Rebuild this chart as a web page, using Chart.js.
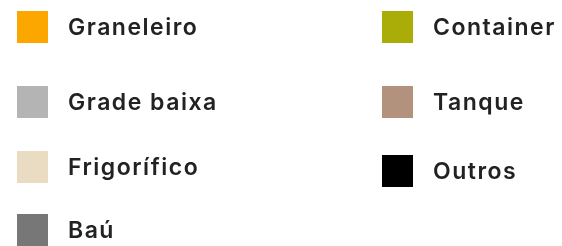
<!DOCTYPE html>
<html>
<head>
<meta charset="utf-8">
<script src="https://cdn.jsdelivr.net/npm/chart.js@4/dist/chart.umd.min.js"></script>
<style>
  html, body { margin: 0; padding: 0; background: #fff; }
  .wrap { width: 562px; height: 246px; }
</style>
</head>
<body>
<div class="wrap"><canvas id="legendChart"></canvas></div>
<script>
// tipos de carroceria
const tipos = ["Graneleiro", "Grade baixa", "Frigorífico", "Baú", "Container", "Tanque", "Outros"];
const cores = ["#fca600", "#b4b4b4", "#eadcc2", "#777777", "#aaad08", "#b3927d", "#000000"];
const valores = [[], [], [], [], [], [], []];

// legend grid: 4 items in first column, the rest in second
const colX = [17, 382];
const rowY = [[27, 102, 167, 230], [27, 102, 171]];
const box = { w: 31, h: 32 };

const gridLegend = {
  id: "gridLegend",
  afterDraw(chart) {
    const ctx = chart.ctx;
    ctx.save();
    ctx.font = "600 23px Inter, 'Open Sans', sans-serif";
    ctx.letterSpacing = "1.5px";
    ctx.textBaseline = "middle";
    chart.data.datasets.forEach((ds, i) => {
      const col = i < 4 ? 0 : 1;
      const row = i < 4 ? i : i - 4;
      const x = colX[col];
      const y = rowY[col][row];
      ctx.fillStyle = ds.backgroundColor;
      ctx.fillRect(x, y - box.h / 2, box.w, box.h);
      ctx.fillStyle = "#222222";
      ctx.fillText(ds.label, x + box.w + 20, y + 1);
    });
    ctx.restore();
  },
};

new Chart(document.getElementById("legendChart"), {
  type: "bar",
  data: {
    labels: [],
    datasets: tipos.map((t, i) => ({
      label: t,
      data: valores[i],
      backgroundColor: cores[i],
    })),
  },
  options: {
    responsive: true,
    maintainAspectRatio: false,
    animation: false,
    plugins: {
      legend: { display: false },
      tooltip: { enabled: false },
    },
    scales: {
      x: { display: false },
      y: { display: false },
    },
  },
  plugins: [gridLegend],
});
</script>
</body>
</html>
